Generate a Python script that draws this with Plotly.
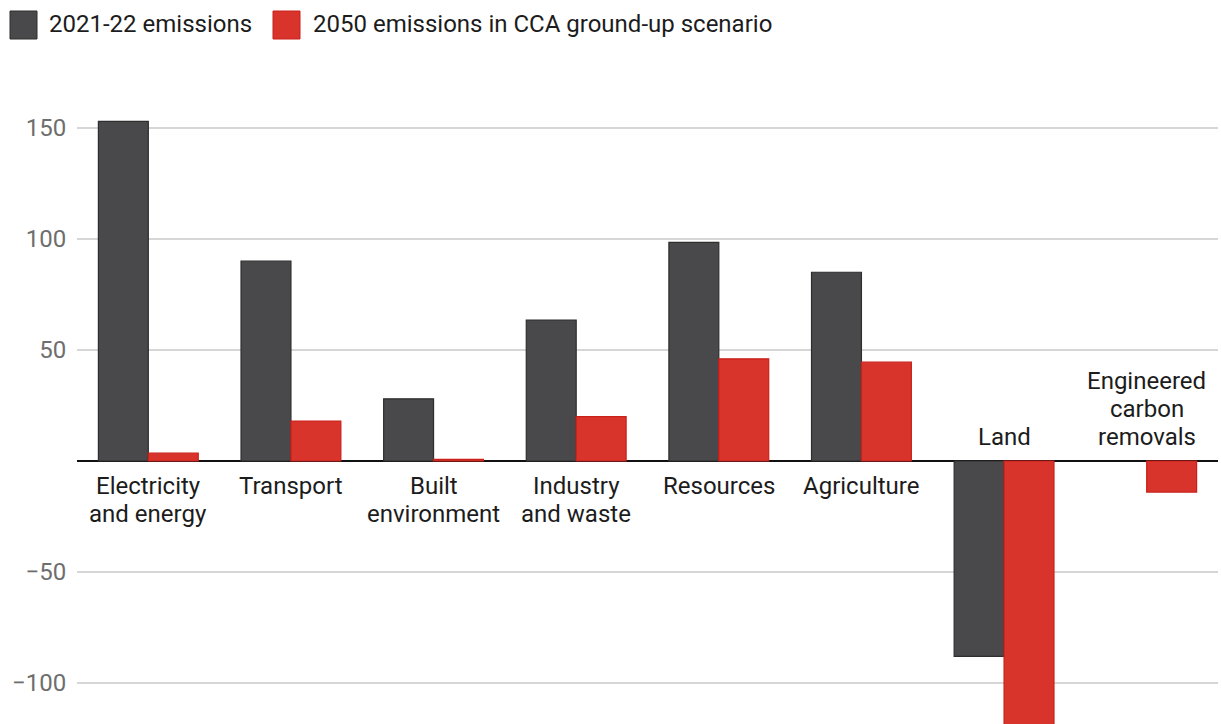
import plotly.graph_objects as go

categories = ["Electricity<br>and energy", "Transport", "Built<br>environment", "Industry<br>and waste",
              "Resources", "Agriculture", "Land", "Engineered<br>carbon<br>removals"]
emissions_2021 = [153, 90, 28, 63.5, 98.5, 85, -88, None]
emissions_2050 = [3.5, 18, 0.7, 20, 46, 44.5, -122, -14]
series_names = ["2021-22 emissions", "2050 emissions in CCA ground-up scenario"]
tick_values = [150, 100, 50, -50, -100]
tick_labels = ["150", "100", "50", "\u221250", "\u2212100"]

DARK = "#49494b"
RED = "#d8342b"
FONT = "Roboto"
FS = 24

fig = go.Figure()
fig.add_trace(go.Bar(x=categories, y=emissions_2021, name=series_names[0],
                     marker=dict(color=DARK, line=dict(color="#2e2e2e", width=1.2))))
fig.add_trace(go.Bar(x=categories, y=emissions_2050, name=series_names[1],
                     marker=dict(color=RED, line=dict(color="#c9201a", width=1.2))))

L, R, T = 77, 3, 80
W, H = 1221, 724
pw = W - L - R
ph = H - T

def px(x):
    return (x - L) / pw

def py(y):
    return (H - y) / ph

# category labels, one annotation per line
LINE = 28
for cat, v1, v2 in zip(categories, emissions_2021, emissions_2050):
    vals = [v for v in (v1, v2) if v is not None]
    neg = min(vals) < 0
    lines = cat.split("<br>")
    n = len(lines)
    for k, ln in enumerate(lines):
        shift = 24 + LINE * (n - 1 - k) if neg else -25 - LINE * k
        fig.add_annotation(x=cat, y=0, xref="x", yref="y", text=ln, showarrow=False,
                           yanchor="middle", yshift=shift,
                           font=dict(family=FONT, size=FS, color="#1c1c1c"), align="center")

# legend (custom)
shapes = []
legend_items = [(10, 37, DARK, "#2e2e2e", 50, series_names[0]),
                (273, 300, RED, "#c9201a", 314, series_names[1])]
for x0, x1, fill, line, tx, name in legend_items:
    shapes.append(dict(type="rect", xref="paper", yref="paper", x0=px(x0), x1=px(x1),
                       y0=py(39), y1=py(11),
                       fillcolor=fill, line=dict(color=line, width=1)))
    fig.add_annotation(xref="paper", yref="paper", x=px(tx), y=py(24),
                       text=name, showarrow=False, xanchor="left", yanchor="middle",
                       xshift=-3,
                       font=dict(family=FONT, size=FS, color="#1c1c1c"))

fig.update_layout(
    width=W, height=H,
    margin=dict(l=L, r=R, t=T, b=0),
    plot_bgcolor="white", paper_bgcolor="white",
    barmode="group", bargap=0.3, bargroupgap=0,
    showlegend=False,
    shapes=shapes,
    font=dict(family=FONT),
)
fig.update_xaxes(showticklabels=False, showgrid=False, showline=False, zeroline=False,
                 range=[-0.5, 7.5])
fig.update_yaxes(range=[-118.47, 171.6], tickvals=tick_values, ticktext=tick_labels,
                 showgrid=True, gridcolor="#d6d6d6", gridwidth=1.5,
                 zeroline=True, zerolinecolor="#111111", zerolinewidth=2,
                 tickfont=dict(family=FONT, size=FS, color="#6e6e6e"),
                 ticks="outside", ticklen=5, tickcolor="rgba(0,0,0,0)", showline=False)

fig.write_html("out.html")
